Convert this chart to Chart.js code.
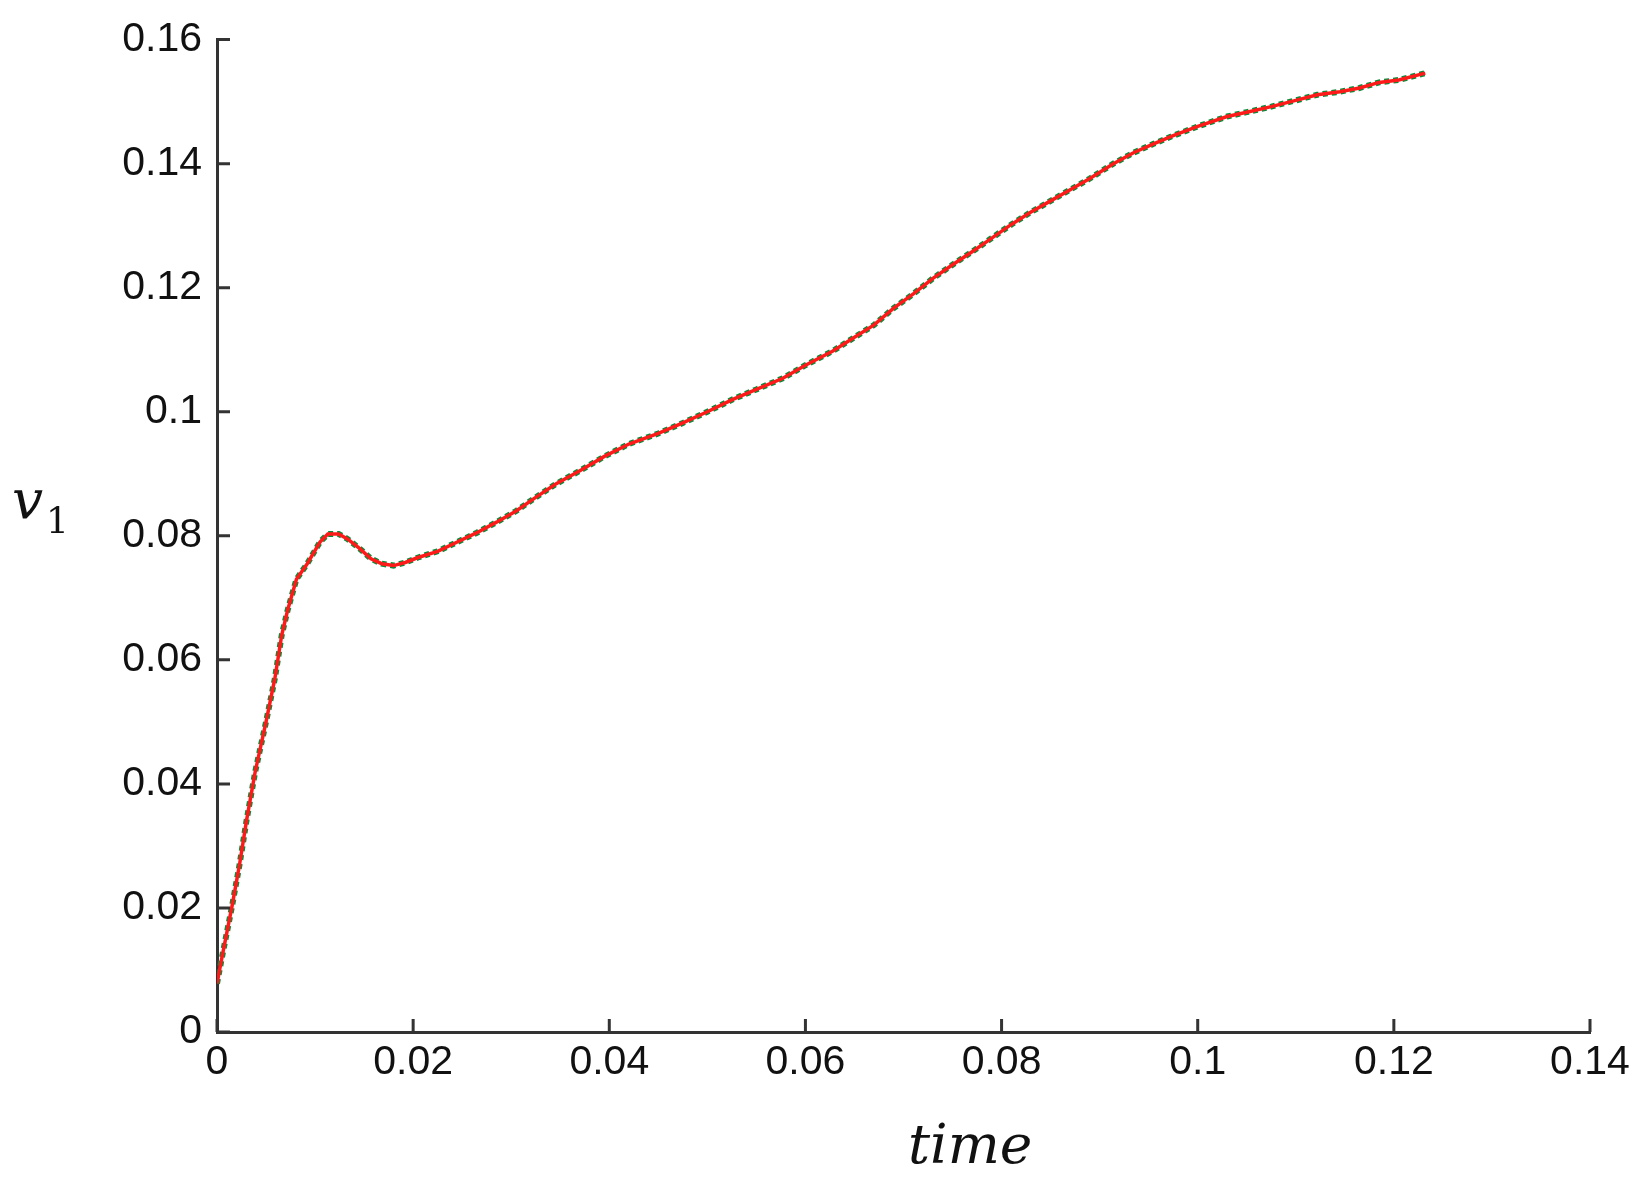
<!DOCTYPE html>
<html lang="en">
<head>
    <meta charset="UTF-8">
    <title>v1 vs time</title>
    <script src="https://cdn.jsdelivr.net/npm/chart.js"></script>
    <style>
        html, body { margin: 0; padding: 0; background: #fff; }
        #wrap { width: 1640px; height: 1189px; }
    </style>
</head>
<body>
    <div id="wrap"><canvas id="chart" width="1640" height="1189"></canvas></div>

    <script>
        // Datos
        const timeValues = [
            0, 0.0005, 0.0015, 0.0023, 0.0030, 0.0039, 0.0050, 0.0059, 0.0066, 0.0072,
            0.0081, 0.0092, 0.0105, 0.0113, 0.0124, 0.0133, 0.0145, 0.0157, 0.0168, 0.0180,
            0.0192, 0.0205, 0.0225, 0.0245, 0.0265, 0.0285, 0.0305, 0.0325, 0.0345, 0.0370,
            0.0395, 0.0420, 0.0450, 0.0475, 0.0500, 0.0526, 0.0550, 0.0577, 0.0600, 0.0628,
            0.0650, 0.0670, 0.0690, 0.0710, 0.0730, 0.0750, 0.0770, 0.0790, 0.0810, 0.0830,
            0.0850, 0.0870, 0.0890, 0.0914, 0.0935, 0.0955, 0.0975, 0.1000, 0.1030, 0.1050,
            0.1075, 0.1100, 0.1122, 0.1145, 0.1165, 0.1185, 0.1205, 0.1232
        ];
        const v1Values = [
            0.0078, 0.0120, 0.0200, 0.0270, 0.0340, 0.0420, 0.0500, 0.0570, 0.0640, 0.0680,
            0.0730, 0.0755, 0.0790, 0.0803, 0.0803, 0.0795, 0.0780, 0.0763, 0.0755, 0.0752,
            0.0757, 0.0765, 0.0775, 0.0790, 0.0805, 0.0822, 0.0840, 0.0862, 0.0883, 0.0905,
            0.0928, 0.0948, 0.0965, 0.0982, 0.1000, 0.1020, 0.1036, 0.1054, 0.1075, 0.1098,
            0.1120, 0.1140, 0.1167, 0.1190, 0.1215, 0.1237, 0.1258, 0.1280, 0.1302, 0.1322,
            0.1340, 0.1358, 0.1376, 0.1400, 0.1418, 0.1432, 0.1445, 0.1460, 0.1476, 0.1483,
            0.1492, 0.1502, 0.1511, 0.1516, 0.1522, 0.1531, 0.1535, 0.1546
        ];
        const xTicks = [0, 0.02, 0.04, 0.06, 0.08, 0.1, 0.12, 0.14];
        const yTicks = [0, 0.02, 0.04, 0.06, 0.08, 0.1, 0.12, 0.14, 0.16];

        const points = timeValues.map((t, i) => ({ x: t, y: v1Values[i] }));

        // Marcas de los ejes hacia adentro y titulos de los ejes
        const axisDecor = {
            id: 'axisDecor',
            afterDraw(chart) {
                const { ctx, chartArea, scales } = chart;
                ctx.save();
                ctx.strokeStyle = '#333';
                ctx.lineWidth = 3;
                ctx.beginPath();
                xTicks.forEach(v => {
                    const px = scales.x.getPixelForValue(v);
                    ctx.moveTo(px, chartArea.bottom);
                    ctx.lineTo(px, chartArea.bottom - 13);
                });
                yTicks.forEach(v => {
                    const py = scales.y.getPixelForValue(v);
                    ctx.moveTo(chartArea.left, py);
                    ctx.lineTo(chartArea.left + 13, py);
                });
                ctx.stroke();

                ctx.fillStyle = '#111';
                ctx.textBaseline = 'alphabetic';
                ctx.textAlign = 'left';
                ctx.font = 'italic 55px "DejaVu Serif"';
                ctx.fillText('time', 908, 1163);
                ctx.fillText('v', 12, 518);
                ctx.font = '36px "DejaVu Serif"';
                ctx.fillText('1', 46, 533);
                ctx.restore();
            }
        };

        const tickFont = { family: '"Liberation Sans", Arial, sans-serif', size: 41 };

        new Chart(document.getElementById('chart'), {
            type: 'line',
            data: {
                datasets: [
                    {
                        label: 'v1 (red)',
                        data: points,
                        borderColor: '#ff1a1a',
                        borderWidth: 3.5,
                        pointRadius: 0,
                        tension: 0,
                        order: 0
                    },
                    {
                        label: 'v1 (green)',
                        data: points,
                        borderColor: '#0b8a3a',
                        borderWidth: 6,
                        borderDash: [5, 4],
                        pointRadius: 0,
                        tension: 0,
                        order: 1
                    }
                ]
            },
            options: {
                responsive: false,
                animation: false,
                layout: { padding: { top: 38, right: 50, left: 0, bottom: 0 } },
                plugins: {
                    legend: { display: false },
                    tooltip: { enabled: false }
                },
                scales: {
                    x: {
                        type: 'linear',
                        min: 0,
                        max: 0.14,
                        afterBuildTicks: axis => { axis.ticks = xTicks.map(v => ({ value: v })); },
                        afterFit: axis => { axis.height = 157; },
                        grid: { display: false, drawTicks: false },
                        border: { display: true, color: '#333', width: 3 },
                        ticks: {
                            padding: 6,
                            color: '#111',
                            font: tickFont,
                            maxRotation: 0,
                            autoSkip: false,
                            callback: v => String(+v.toFixed(2))
                        }
                    },
                    y: {
                        type: 'linear',
                        min: 0,
                        max: 0.16,
                        afterBuildTicks: axis => { axis.ticks = yTicks.map(v => ({ value: v })); },
                        afterFit: axis => { axis.width = 217; },
                        grid: { display: false, drawTicks: false },
                        border: { display: true, color: '#333', width: 3 },
                        ticks: {
                            padding: 15,
                            color: '#111',
                            font: tickFont,
                            autoSkip: false,
                            callback: v => String(+v.toFixed(2))
                        }
                    }
                }
            },
            plugins: [axisDecor]
        });
    </script>
</body>
</html>
